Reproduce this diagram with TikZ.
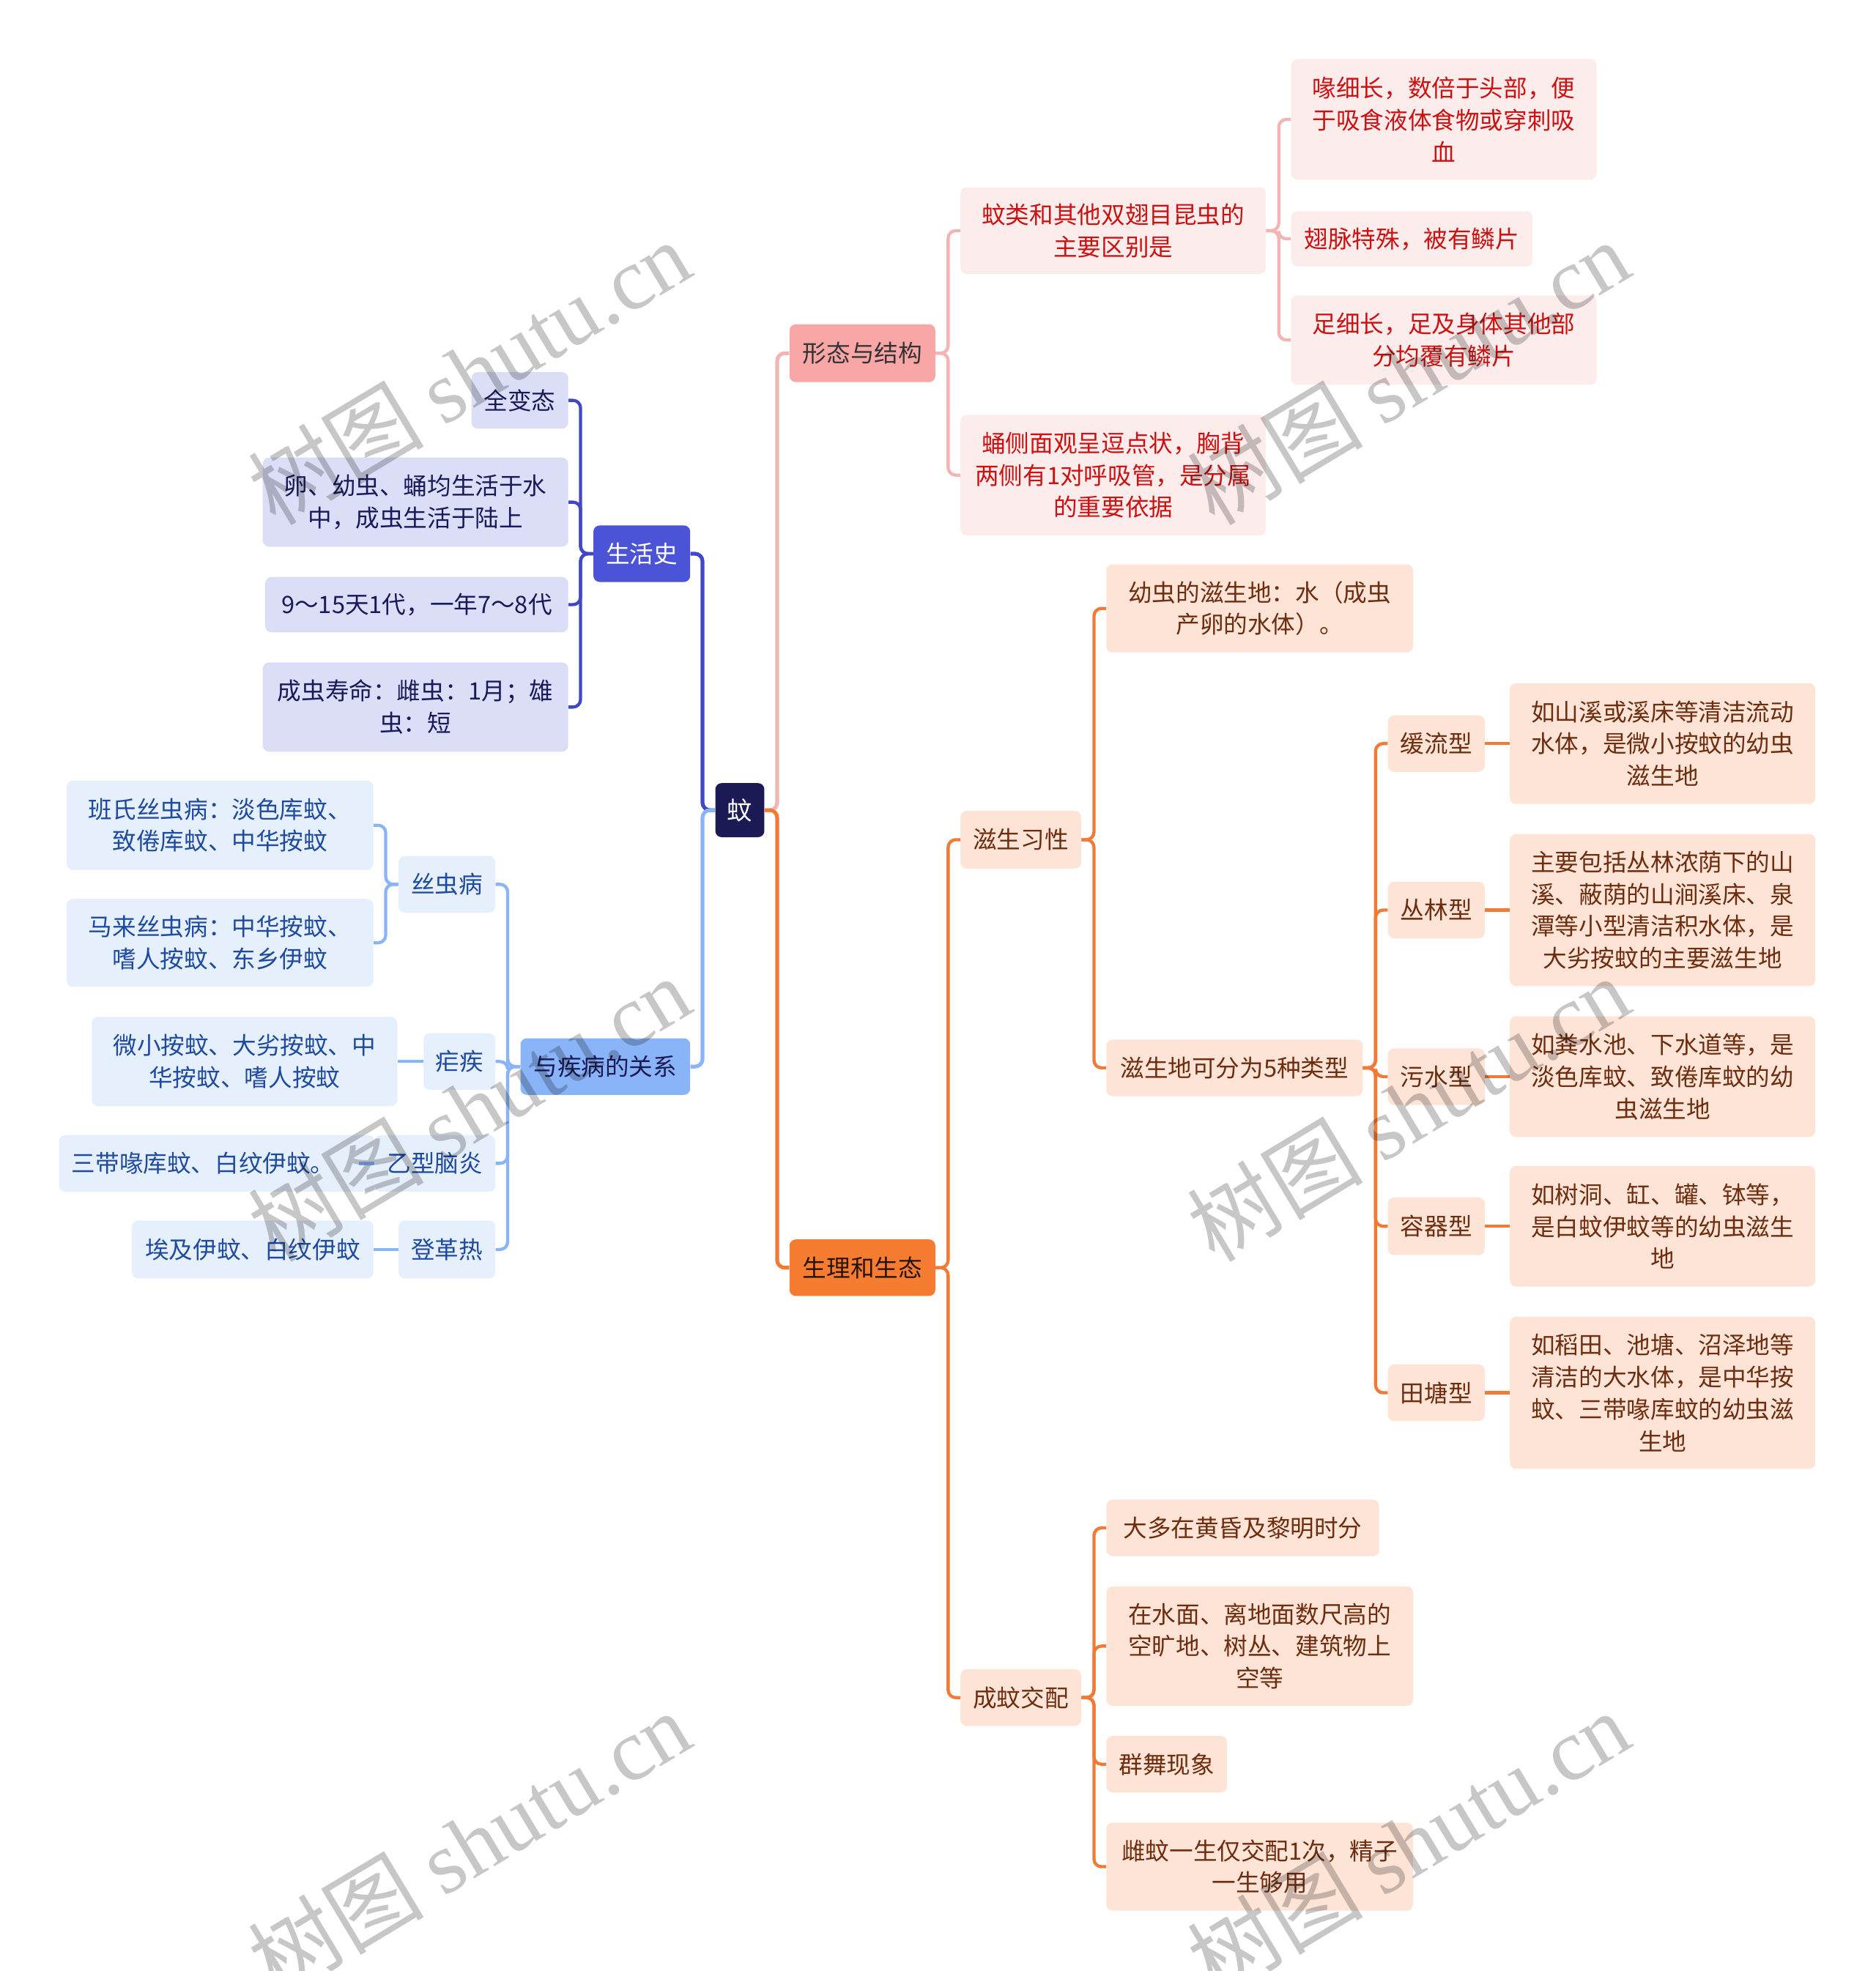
\documentclass[tikz,border=0pt]{standalone}
\usepackage{fontspec}
\setmainfont{Noto Sans CJK SC}
\newfontfamily\wmserif{Liberation Serif}
\usetikzlibrary{positioning}
\definecolor{wenroot}{RGB}{27,26,85}
\definecolor{xtfill}{RGB}{248,166,166}
\definecolor{xtline}{RGB}{243,180,180}
\definecolor{xtleaf}{RGB}{253,236,236}
\definecolor{xttext}{RGB}{204,17,17}
\definecolor{shfill}{RGB}{75,84,214}
\definecolor{shline}{RGB}{64,72,200}
\definecolor{shleaf}{RGB}{220,222,247}
\definecolor{shtext}{RGB}{25,26,90}
\definecolor{jbfill}{RGB}{138,180,248}
\definecolor{jbleaf}{RGB}{230,239,252}
\definecolor{jbtext}{RGB}{30,75,160}
\definecolor{slfill}{RGB}{245,124,49}
\definecolor{slline}{RGB}{240,122,54}
\definecolor{slleaf}{RGB}{253,228,214}
\definecolor{sltext}{RGB}{110,45,15}

\begin{document}
\begin{tikzpicture}[x=1pt,y=-1pt,
  box/.style={rectangle,rounded corners=5pt,align=center,inner sep=0pt,
    font=\fontsize{19}{25.5}\selectfont},
  sz/.style 2 args={minimum width=#1,minimum height=#2},
  rootbox/.style={box,fill=wenroot,text=white,font=\fontsize{20}{25}\selectfont},
  xtbox/.style={box,fill=xtfill,text=black!80},
  xtleafbox/.style={box,fill=xtleaf,text=xttext},
  shbox/.style={box,fill=shfill,text=white},
  shleafbox/.style={box,fill=shleaf,text=shtext},
  jbbox/.style={box,fill=jbfill,text=wenroot},
  jbleafbox/.style={box,fill=jbleaf,text=jbtext},
  slbox/.style={box,fill=slfill,text=black!85!slfill},
  slleafbox/.style={box,fill=slleaf,text=sltext},
  xtcon/.style={draw=xtline,line width=2.5pt,rounded corners=6pt},
  shcon/.style={draw=shline,line width=2.5pt,rounded corners=6pt},
  jbcon/.style={draw=jbfill,line width=2.5pt,rounded corners=6pt},
  slcon/.style={draw=slline,line width=2.5pt,rounded corners=6pt},
  wmark/.style={font=\fontsize{70}{70}\selectfont,text=black,text opacity=0.22,
    rotate=31,inner sep=0pt}
]
  \useasboundingbox (0,0) rectangle (1492,1568);

  % root and main branches
  \node[rootbox,sz={39}{43}] (wen) at (588.5,644.5) {蚊};
  \node[xtbox,sz={116}{46}] (xingtai) at (686,281) {形态与结构};
  \node[slbox,sz={116}{45}] (shengli) at (686,1008.5) {生理和生态};
  \node[shbox,sz={77}{45}] (shenghuo) at (510.5,440.5) {生活史};
  \node[jbbox,sz={135}{45}] (jibing) at (481.5,848.5) {与疾病的关系};

  % 形态与结构
  \node[xtleafbox,sz={243}{69}] (quyu) at (885.5,183.5)
    {蚊类和其他双翅目昆虫的\\主要区别是};
  \node[xtleafbox,sz={243}{96}] (hui) at (1148.5,95)
    {喙细长，数倍于头部，便\\于吸食液体食物或穿刺吸\\血};
  \node[xtleafbox,sz={192}{44}] (chimai) at (1123,190) {翅脉特殊，被有鳞片};
  \node[xtleafbox,sz={243}{71}] (zuxi) at (1148.5,270.5)
    {足细长，足及身体其他部\\分均覆有鳞片};
  \node[xtleafbox,sz={243}{96}] (yong) at (885.5,378)
    {蛹侧面观呈逗点状，胸背\\两侧有1对呼吸管，是分属\\的重要依据};

  % 生活史
  \node[shleafbox,sz={77}{45}] (quanbian) at (413.5,318.5) {全变态};
  \node[shleafbox,sz={243}{71}] (shuizhong) at (330.5,399.5)
    {卵、幼虫、蛹均生活于水\\中，成虫生活于陆上};
  \node[shleafbox,sz={241}{44}] (daishu) at (331.5,481) {9～15天1代，一年7～8代};
  \node[shleafbox,sz={243}{71}] (shouming) at (330.5,562.5)
    {成虫寿命：雌虫：1月；雄\\虫：短};

  % 与疾病的关系
  \node[jbleafbox,sz={77}{45}] (sichong) at (355.5,703.5) {丝虫病};
  \node[jbleafbox,sz={244}{71}] (banshi) at (175,656.5)
    {班氏丝虫病：淡色库蚊、\\致倦库蚊、中华按蚊};
  \node[jbleafbox,sz={244}{70}] (malai) at (175,750)
    {马来丝虫病：中华按蚊、\\嗜人按蚊、东乡伊蚊};
  \node[jbleafbox,sz={57}{45}] (nueji) at (365.5,844.5) {疟疾};
  \node[jbleafbox,sz={243}{71}] (weixiao) at (194.5,844.5)
    {微小按蚊、大劣按蚊、中\\华按蚊、嗜人按蚊};
  \node[jbleafbox,sz={251}{45}] (sandai) at (172.5,925.5) {三带喙库蚊、白纹伊蚊。\hspace{22pt}};
  \node[jbleafbox,sz={96}{45}] (naoyan) at (346,925.5) {乙型脑炎};
  \node[jbleafbox,sz={77}{46}] (dengge) at (355.5,994) {登革热};
  \node[jbleafbox,sz={192}{46}] (aiji) at (201,994) {埃及伊蚊、白纹伊蚊};

  % 生理和生态
  \node[slleafbox,sz={96}{46}] (zisheng) at (812,668) {滋生习性};
  \node[slleafbox,sz={244}{70}] (youchong) at (1002,484)
    {幼虫的滋生地：水（成虫\\产卵的水体）。};
  \node[slleafbox,sz={204}{45}] (leixing) at (982,849.5) {滋生地可分为5种类型};
  \node[slleafbox,sz={77}{45}] (huanliu) at (1142.5,591.5) {缓流型};
  \node[slleafbox,sz={243}{96}] (huanliud) at (1322.5,591.5)
    {如山溪或溪床等清洁流动\\水体，是微小按蚊的幼虫\\滋生地};
  \node[slleafbox,sz={77}{45}] (conglin) at (1142.5,724) {丛林型};
  \node[slleafbox,sz={243}{121}] (conglind) at (1322.5,724)
    {主要包括丛林浓荫下的山\\溪、蔽荫的山涧溪床、泉\\潭等小型清洁积水体，是\\大劣按蚊的主要滋生地};
  \node[slleafbox,sz={77}{45}] (wushui) at (1142.5,856.5) {污水型};
  \node[slleafbox,sz={243}{96}] (wushuid) at (1322.5,856.5)
    {如粪水池、下水道等，是\\淡色库蚊、致倦库蚊的幼\\虫滋生地};
  \node[slleafbox,sz={77}{46}] (rongqi) at (1142.5,975.5) {容器型};
  \node[slleafbox,sz={243}{96}] (rongqid) at (1322.5,975.5)
    {如树洞、缸、罐、钵等，\\是白蚊伊蚊等的幼虫滋生\\地};
  \node[slleafbox,sz={77}{45}] (tiantang) at (1142.5,1108) {田塘型};
  \node[slleafbox,sz={243}{121}] (tiantangd) at (1322.5,1108)
    {如稻田、池塘、沼泽地等\\清洁的大水体，是中华按\\蚊、三带喙库蚊的幼虫滋\\生地};
  \node[slleafbox,sz={96}{45}] (jiaopei) at (812,1350.5) {成蚊交配};
  \node[slleafbox,sz={217}{45}] (huanghun) at (988.5,1215.5) {大多在黄昏及黎明时分};
  \node[slleafbox,sz={244}{95}] (shuimian) at (1002,1309.5)
    {在水面、离地面数尺高的\\空旷地、树丛、建筑物上\\空等};
  \node[slleafbox,sz={96}{45}] (qunwu) at (928,1403.5) {群舞现象};
  \node[slleafbox,sz={244}{70}] (yici) at (1002,1485)
    {雌蚊一生仅交配1次，精子\\一生够用};

  % connectors
  \draw[xtcon,line width=3pt] (wen.east) -- ++(10,0) |- (xingtai.west);
  \draw[slcon,line width=3pt] (wen.east) -- ++(10,0) |- (shengli.west);
  \draw[shcon,line width=3pt] (wen.west) -- ++(-10,0) |- (shenghuo.east);
  \draw[jbcon,line width=3pt] (wen.west) -- ++(-10,0) |- (jibing.east);

  \foreach \n in {quyu,yong}
    \draw[xtcon] (xingtai.east) -- ++(10,0) |- (\n.west);
  \foreach \n in {hui,chimai,zuxi}
    \draw[xtcon] (quyu.east) -- ++(10,0) |- (\n.west);

  \foreach \n in {quanbian,shuizhong,daishu,shouming}
    \draw[shcon] (shenghuo.west) -- ++(-10,0) |- (\n.east);

  \foreach \n in {sichong,nueji,naoyan,dengge}
    \draw[jbcon] (jibing.west) -- ++(-10,0) |- (\n.east);
  \foreach \n in {banshi,malai}
    \draw[jbcon] (sichong.west) -- ++(-10,0) |- (\n.east);
  \draw[jbcon] (nueji.west) -- (weixiao.east);
  \draw[jbcon] (naoyan.west) -- ++(-12,0);
  \draw[jbcon] (dengge.west) -- (aiji.east);

  \foreach \n in {zisheng,jiaopei}
    \draw[slcon] (shengli.east) -- ++(10,0) |- (\n.west);
  \foreach \n in {youchong,leixing}
    \draw[slcon] (zisheng.east) -- ++(10,0) |- (\n.west);
  \foreach \n in {huanliu,conglin,wushui,rongqi,tiantang}
    \draw[slcon] (leixing.east) -- ++(10,0) |- (\n.west);
  \foreach \n in {huanliu,conglin,wushui,rongqi,tiantang}
    \draw[slcon] (\n.east) -- (\n d.west);
  \foreach \n in {huanghun,shuimian,qunwu,yici}
    \draw[slcon] (jiaopei.east) -- ++(10,0) |- (\n.west);

  % watermark
  \foreach \wx/\wy [count=\i] in {373/296,1120/296,373/882,1120/882,373/1466,1120/1466}
    \node[wmark] (wm\i) at (\wx,\wy) {树图 {\wmserif shutu.cn}};
\end{tikzpicture}
\end{document}
